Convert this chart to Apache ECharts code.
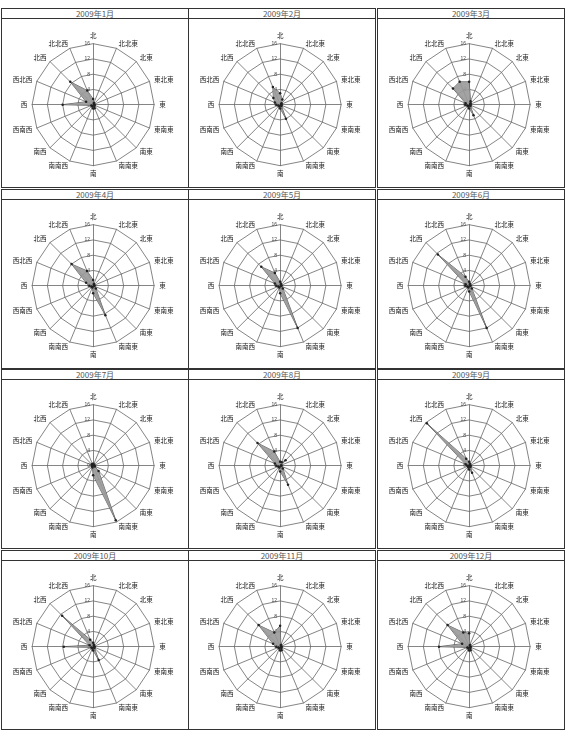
<!DOCTYPE html>
<html>
<head>
<meta charset="utf-8">
<script src="https://cdn.jsdelivr.net/npm/echarts@6/dist/echarts.min.js"></script>
<style>
    body { margin: 0; background: #fff; width: 570px; height: 753px; position: relative; overflow: hidden;
        font-family: 'Liberation Sans Narrow', 'Noto Sans CJK JP', sans-serif; }
    .cell { position: absolute; width: 186px; height: 178px; border: 1px solid #333; box-sizing: content-box; }
    .cell .head { height: 9px; line-height: 9px; border-bottom: 1px solid #333; text-align: center;
        font-size: 8px; color: #555; }
    .cell .chart { width: 186px; height: 168px; }
</style>
</head>
<body>
<div id="grid"></div>
<script>
    // 16方位（北から時計回り）
    const directions = ['北', '北北東', '北東', '東北東', '東', '東南東', '南東', '南南東',
        '南', '南南西', '南西', '西南西', '西', '西北西', '北西', '北北西'];
    const monthTitles = ['2009年1月', '2009年2月', '2009年3月', '2009年4月', '2009年5月', '2009年6月',
        '2009年7月', '2009年8月', '2009年9月', '2009年10月', '2009年11月', '2009年12月'];
    const scaleMax = 16;

    // 各月の方位別の値（北から時計回り）
    const jan = [1.5, 0.5, 0.3, 0.3, 0.3, 0.3, 0.5, 1.0, 1.0, 0.5, 0.5, 0.5, 8.0, 2.0, 8.5, 4.0];
    const feb = [3.0, 1.5, 0.5, 0.3, 0.3, 0.3, 0.5, 4.0, 1.0, 0.5, 0.5, 0.5, 1.0, 1.5, 2.5, 5.0];
    const mar = [6.0, 1.0, 0.5, 0.3, 0.3, 0.3, 0.5, 3.0, 1.0, 0.5, 0.5, 0.5, 1.0, 1.0, 6.0, 6.5];
    const apr = [1.5, 0.5, 0.3, 0.3, 0.3, 0.3, 1.0, 8.4, 2.0, 0.5, 0.5, 0.5, 1.0, 2.0, 8.0, 4.2];
    const may = [1.0, 0.5, 0.3, 0.3, 0.3, 0.3, 1.0, 12.0, 2.0, 0.5, 0.5, 0.5, 1.0, 1.5, 7.0, 3.6];
    const jun = [1.0, 0.5, 0.3, 0.3, 0.3, 0.3, 1.0, 12.0, 1.5, 0.5, 0.5, 0.5, 1.0, 1.0, 11.6, 2.5];
    const jul = [0.5, 0.3, 0.3, 0.3, 0.3, 0.5, 2.0, 15.5, 2.5, 0.5, 0.3, 0.3, 0.3, 0.3, 0.5, 0.5];
    const aug = [1.0, 1.0, 2.0, 0.3, 0.3, 0.3, 1.0, 5.4, 1.5, 0.5, 0.5, 0.5, 1.0, 1.5, 8.4, 4.0];
    const sep = [1.0, 0.5, 0.3, 0.3, 0.3, 0.3, 0.5, 2.0, 1.0, 0.5, 0.3, 0.3, 0.5, 1.0, 15.7, 2.0];
    const oct = [1.0, 0.5, 0.3, 0.3, 0.3, 0.3, 0.5, 3.8, 1.0, 0.5, 0.5, 0.5, 7.7, 1.0, 11.5, 2.0];
    const nov = [5.5, 0.5, 0.3, 0.3, 0.3, 0.3, 0.5, 1.0, 1.0, 0.5, 0.5, 0.5, 1.0, 2.0, 8.0, 4.0];
    const dec = [3.5, 0.5, 0.3, 0.3, 0.3, 0.3, 0.5, 1.0, 1.0, 0.5, 0.5, 0.5, 7.9, 2.0, 8.0, 4.0];
    const monthlyValues = [jan, feb, mar, apr, may, jun, jul, aug, sep, oct, nov, dec];

    // レーダーは反時計回りなので、北以外を逆順にする
    const toRadarOrder = arr => [arr[0]].concat(arr.slice(1).reverse());

    const colLeft = [1, 188, 377];
    const rowTop = [8, 188.7, 369.4, 550];
    const grid = document.getElementById('grid');

    monthTitles.forEach((title, i) => {
        const cell = document.createElement('div');
        cell.className = 'cell';
        cell.style.left = colLeft[i % 3] + 'px';
        cell.style.top = rowTop[Math.floor(i / 3)] + 'px';
        const head = document.createElement('div');
        head.className = 'head';
        head.textContent = title;
        const chartDiv = document.createElement('div');
        chartDiv.className = 'chart';
        cell.appendChild(head);
        cell.appendChild(chartDiv);
        grid.appendChild(cell);

        const indicator = toRadarOrder(directions).map((name, k) => {
            const ind = {name: name, min: 0, max: scaleMax};
            if (k === 0) ind.axisLabel = {show: true};
            return ind;
        });

        const chart = echarts.init(chartDiv);
        chart.setOption({
            animation: false,
            radar: {
                center: ['49%', '51%'],
                radius: 61,
                startAngle: 90,
                splitNumber: 4,
                shape: 'polygon',
                indicator: indicator,
                axisName: {color: '#222', fontSize: 6.5, fontFamily: 'Noto Sans CJK JP'},
                nameGap: 5,
                axisLine: {lineStyle: {color: '#666', width: 0.8}},
                splitLine: {lineStyle: {color: '#666', width: 0.8}},
                splitArea: {show: false},
                axisTick: {show: false},
                axisLabel: {show: false, fontSize: 5, color: '#444', margin: 3, fontFamily: 'Liberation Sans'}
            },
            series: [{
                type: 'radar',
                symbol: 'circle',
                symbolSize: 2.5,
                itemStyle: {color: '#222'},
                lineStyle: {color: '#444', width: 0.8},
                areaStyle: {color: '#999', opacity: 0.9},
                data: [{value: toRadarOrder(monthlyValues[i])}]
            }]
        });
    });
</script>
</body>
</html>
